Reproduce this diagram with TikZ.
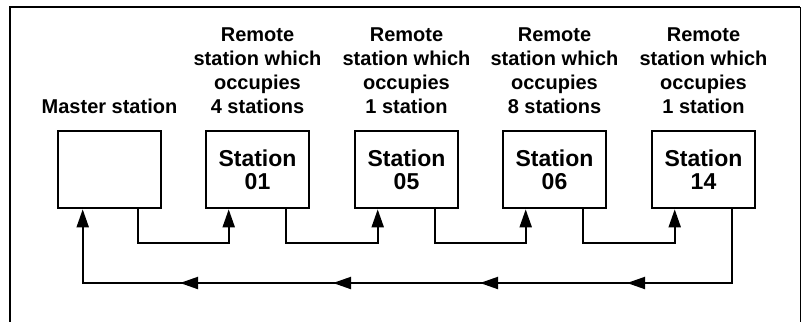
\documentclass[tikz,border=0pt]{standalone}
\usepackage{fontspec}
\setmainfont{Liberation Sans}
\usetikzlibrary{arrows.meta}
\begin{document}
\begin{tikzpicture}[x=1pt,y=-1pt,
  stbox/.style={draw,line width=2.6pt,minimum width=103pt,minimum height=77pt,inner sep=0pt,
     font=\fontsize{23}{23}\selectfont\bfseries,align=center},
  lbl/.style={font=\fontsize{20}{23.7}\selectfont\bfseries,align=center,anchor=base,inner sep=0pt},
  wire/.style={line width=2pt},
  tip/.style={-{Triangle[length=18pt,width=12pt]}},
  frame/.style={line width=2pt}]
\useasboundingbox (0,0) rectangle (802,322);
% frame
\draw[line width=2.8pt] (9,7) -- (800,7);
\draw[frame] (10,7) -- (10,322);
\draw[line width=0.8pt] (800,7) -- (800,322);
% boxes
\node[stbox] (m) at (109.5,169.5) {};
\node[stbox] (s1) at (257.5,169.5) {Station\\01};
\node[stbox] (s5) at (406.5,169.5) {Station\\05};
\node[stbox] (s6) at (554.5,169.5) {Station\\06};
\node[stbox] (s14) at (703.5,169.5) {Station\\14};
% labels
\node[lbl] (lm) at (109.5,113) {Master station};
\node[lbl] (l1) at (257.5,113) {Remote\\station which\\occupies\\4 stations};
\node[lbl] (l5) at (406.5,113) {Remote\\station which\\occupies\\1 station};
\node[lbl] (l6) at (554.5,113) {Remote\\station which\\occupies\\8 stations};
\node[lbl] (l14) at (703.5,113) {Remote\\station which\\occupies\\1 station};
% chain connectors
\foreach \a/\b in {m/s1,s1/s5,s5/s6,s6/s14}{
  \draw[wire,tip] ([xshift=-24pt]\a.south east) -- ++(0,34) -| ([xshift=24pt]\b.south west);
}
% return line
\coordinate (r1) at ([xshift=-24pt,yshift=-74pt]s14.south east);
\coordinate (r0) at ([xshift=26pt,yshift=-74pt]m.south west);
\draw[wire,tip] ([xshift=-24pt]s14.south east) -- (r1) -- (r0) -- ([xshift=26pt]m.south west);
\foreach \x in {627,480,333,180}{
  \coordinate (a\x) at (\x,283);
  \draw[wire,tip] ([xshift=16pt]a\x) -- (a\x);
}
\end{tikzpicture}
\end{document}
